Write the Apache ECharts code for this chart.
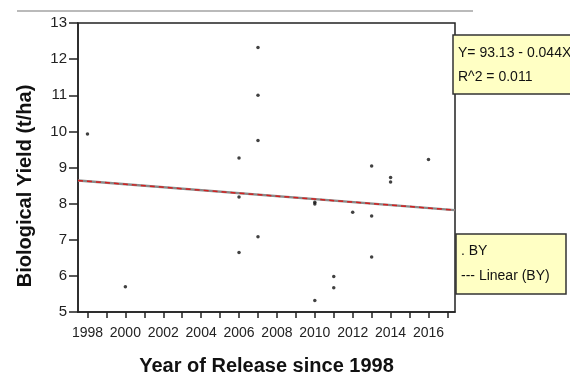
<!DOCTYPE html>
<html>
<head>
<meta charset="utf-8">
<script src="https://cdn.jsdelivr.net/npm/echarts@6/dist/echarts.min.js"></script>
<style>
  html, body { margin: 0; padding: 0; background: #fff; }
  #chart { width: 570px; height: 385px; }
</style>
</head>
<body>
<div id="chart"></div>
<script>
const years = [1998, 2000, 2006, 2006, 2006, 2007, 2007, 2007, 2007, 2010, 2010, 2010, 2011, 2011, 2012, 2013, 2013, 2013, 2014, 2014, 2016];
const yieldBY = [9.93, 5.7, 9.26, 8.18, 6.65, 12.32, 11.0, 9.75, 7.08, 8.04, 7.99, 5.32, 5.98, 5.67, 7.76, 9.04, 7.66, 6.52, 8.72, 8.6, 9.22];
const trendX = [1997.5, 2017.4];
const trendY = [8.64, 7.82];
const tickYears = [1998, 1999, 2000, 2001, 2002, 2003, 2004, 2005, 2006, 2007, 2008, 2009, 2010, 2011, 2012, 2013, 2014, 2015, 2016, 2017];
const labelYears = [1998, 2000, 2002, 2004, 2006, 2008, 2010, 2012, 2014, 2016];

const font = "'Liberation Sans', Arial, sans-serif";

const chart = echarts.init(document.getElementById("chart"));
chart.setOption({
  animation: false,
  grid: { left: 78, top: 23, right: 115, bottom: 73, show: true, borderColor: "#222", borderWidth: 1.5 },
  xAxis: {
    type: "value",
    min: 1997.5,
    max: 2017.4,
    splitLine: { show: false },
    axisLine: { lineStyle: { color: "#222", width: 1.5 } },
    axisTick: { length: 6, lineStyle: { color: "#222", width: 1.5 }, customValues: tickYears },
    axisLabel: { customValues: labelYears, color: "#222", fontSize: 14, fontFamily: font, margin: 14, formatter: v => String(v) },
    name: "Year of Release since 1998",
    nameLocation: "middle",
    nameGap: 44,
    nameTextStyle: { fontSize: 20, fontWeight: "bold", fontFamily: font, color: "#111" }
  },
  yAxis: {
    type: "value",
    min: 5,
    max: 13,
    interval: 1,
    splitLine: { show: false },
    axisLine: { show: true, lineStyle: { color: "#222", width: 1.5 } },
    axisTick: { show: true, length: 9, lineStyle: { color: "#222", width: 1.5 } },
    axisLabel: { color: "#222", fontSize: 15, fontFamily: font, margin: 11 }
  },
  series: [
    {
      type: "line",
      data: trendX.map((x, i) => [x, trendY[i]]),
      symbol: "none",
      lineStyle: { color: "#8a8a8a", width: 2.5 },
      z: 2
    },
    {
      type: "line",
      data: trendX.map((x, i) => [x, trendY[i]]),
      symbol: "none",
      lineStyle: { color: "#d42020", width: 1.5, type: [5, 4] },
      z: 3
    },
    {
      type: "scatter",
      data: years.map((x, i) => [x, yieldBY[i]]),
      symbolSize: 3.5,
      itemStyle: { color: "#111" },
      z: 4
    }
  ],
  graphic: [
    { type: "line", shape: { x1: 17, y1: 11, x2: 473, y2: 11 }, style: { stroke: "#777", lineWidth: 1.2 } },
    {
      type: "text", x: 25, y: 186, rotation: Math.PI / 2,
      style: { text: "Biological Yield (t/ha)", fontSize: 20, fontWeight: "bold", fontFamily: font, fill: "#111", align: "center", verticalAlign: "middle" }
    },
    { type: "rect", shape: { x: 453, y: 35, width: 125, height: 59 }, style: { fill: "#ffffc4", stroke: "#333", lineWidth: 1.5 }, z: 10 },
    { type: "text", x: 458, y: 46, style: { text: "Y= 93.13 - 0.044X", fontSize: 14, fontFamily: font, fill: "#111" }, z: 11 },
    { type: "text", x: 458, y: 70, style: { text: "R^2 = 0.011", fontSize: 14, fontFamily: font, fill: "#111" }, z: 11 },
    { type: "rect", shape: { x: 456, y: 234, width: 110, height: 60 }, style: { fill: "#ffffc4", stroke: "#333", lineWidth: 1.5 }, z: 10 },
    { type: "text", x: 461, y: 244, style: { text: ". BY", fontSize: 14, fontFamily: font, fill: "#111" }, z: 11 },
    { type: "text", x: 461, y: 269, style: { text: "--- Linear (BY)", fontSize: 14, fontFamily: font, fill: "#111" }, z: 11 }
  ]
});
</script>
</body>
</html>
